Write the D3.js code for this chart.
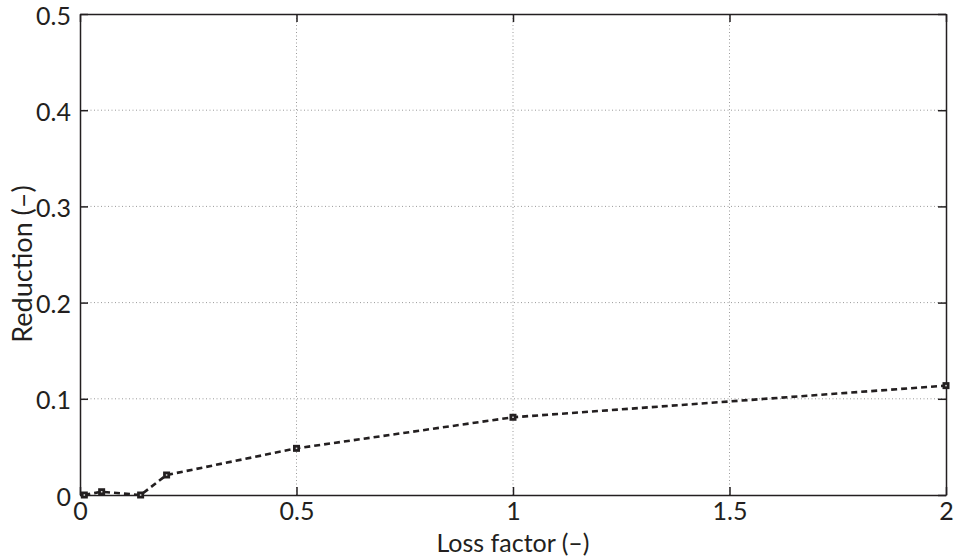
<!DOCTYPE html>
<html>
<head>
<meta charset="utf-8">
<script src="https://cdn.jsdelivr.net/npm/d3@7"></script>
<style>
  body { margin: 0; background: #fff; }
  text { font-family: Lato, "Open Sans", sans-serif; fill: #231f20; }
</style>
</head>
<body>
<div id="chart"></div>
<script>
const lossFactor = [0.01, 0.05, 0.14, 0.2, 0.5, 1, 2];
const reduction = [0, 0.0034, 0, 0.0208, 0.0485, 0.0808, 0.1137];
const xTicks = [0, 0.5, 1, 1.5, 2];
const yTicks = [0, 0.1, 0.2, 0.3, 0.4, 0.5];

const width = 954, height = 558;
const margins = { top: 14, right: 8, bottom: 63, left: 80 };
const ink = '#231f20';
const fontSize = 25;

const x = d3.scaleLinear().domain([0, 2]).range([margins.left, width - margins.right]);
const y = d3.scaleLinear().domain([0, 0.5]).range([height - margins.bottom, margins.top]);

const svg = d3.select('#chart').append('svg')
  .attr('width', width)
  .attr('height', height)

// grid
svg.append('g')
  .selectAll('line')
  .data(xTicks.slice(1, -1))
  .join('line')
  .attr('x1', d => x(d)).attr('x2', d => x(d))
  .attr('y1', y(0)).attr('y2', y(0.5))
  .attr('stroke', '#9a9a9a').attr('stroke-width', 1).attr('stroke-dasharray', '1,2.5')

svg.append('g')
  .selectAll('line')
  .data(yTicks.slice(1, -1))
  .join('line')
  .attr('x1', x(0)).attr('x2', x(2))
  .attr('y1', d => y(d)).attr('y2', d => y(d))
  .attr('stroke', '#9a9a9a').attr('stroke-width', 1).attr('stroke-dasharray', '1,2.5')

// axes with inward ticks
const tickLen = 8;
const axisB = svg.append('g')
  .attr('transform', `translate(0, ${y(0)})`)
  .call(d3.axisBottom(x).tickValues(xTicks).tickFormat(d3.format('')).tickSizeInner(-tickLen).tickSizeOuter(0).tickPadding(tickLen + 2))
const axisL = svg.append('g')
  .attr('transform', `translate(${x(0)}, 0)`)
  .call(d3.axisLeft(y).tickValues(yTicks).tickFormat(d3.format('')).tickSizeInner(-tickLen).tickSizeOuter(0).tickPadding(tickLen + 1))
const axisT = svg.append('g')
  .attr('transform', `translate(0, ${y(0.5)})`)
  .call(d3.axisTop(x).tickValues(xTicks).tickFormat('').tickSizeInner(-tickLen).tickSizeOuter(0))
const axisR = svg.append('g')
  .attr('transform', `translate(${x(2)}, 0)`)
  .call(d3.axisRight(y).tickValues(yTicks).tickFormat('').tickSizeInner(-tickLen).tickSizeOuter(0))

for (const g of [axisB, axisL, axisT, axisR]) {
  g.attr('font-family', null)
  g.selectAll('path, line').attr('stroke', ink).attr('stroke-width', 1.5)
  g.selectAll('text').attr('font-size', fontSize).style('fill', ink)
}
axisB.selectAll('text').attr('dy', '0.6em')
axisL.selectAll('text').attr('dy', '0.4em')

// data line
const pts = lossFactor.map((d, i) => [d, reduction[i]]);
svg.append('path')
  .datum(pts)
  .attr('fill', 'none')
  .attr('stroke', ink)
  .attr('stroke-width', 2.6)
  .attr('stroke-dasharray', '6,4')
  .attr('d', d3.line().x(d => x(d[0])).y(d => y(d[1])))

// square markers with the small light centre seen in the original
const s = 7;
const marks = svg.append('g')
  .selectAll('g')
  .data(pts)
  .join('g')
  .attr('transform', d => `translate(${x(d[0])}, ${y(d[1])})`)
marks.append('rect')
  .attr('x', -s / 2).attr('y', -s / 2)
  .attr('width', s).attr('height', s)
  .attr('fill', ink)
marks.append('rect')
  .attr('x', -0.75).attr('y', -0.75)
  .attr('width', 1.5).attr('height', 1.5)
  .attr('fill', '#ddd')

// axis labels
svg.append('text')
  .attr('x', x(1))
  .attr('y', 552)
  .attr('text-anchor', 'middle')
  .attr('font-size', fontSize)
  .text('Loss factor (–)')

svg.append('text')
  .attr('transform', `translate(32, 264) rotate(-90)`)
  .attr('text-anchor', 'middle')
  .attr('font-size', 27)
  .text('Reduction (–)')
</script>
</body>
</html>
